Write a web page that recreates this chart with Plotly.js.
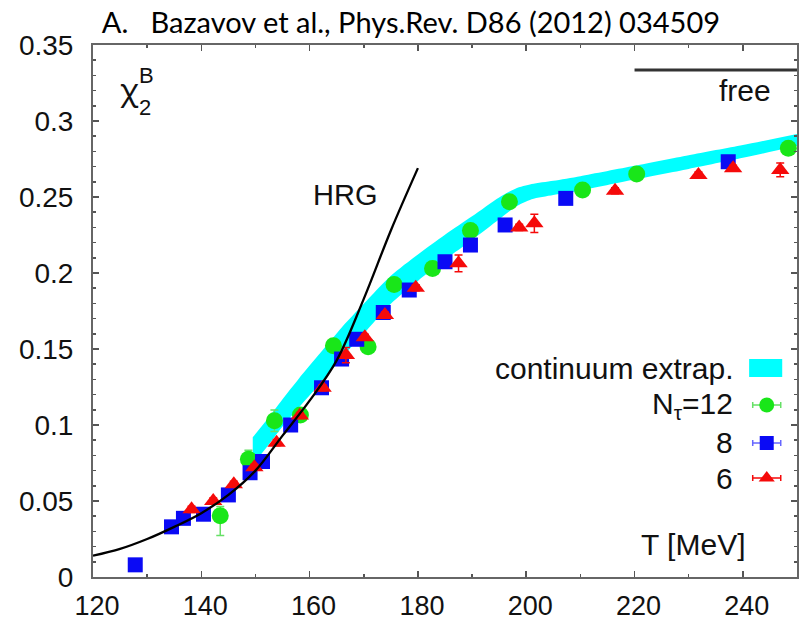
<!DOCTYPE html>
<html><head><meta charset="utf-8">
<script src="https://cdn.plot.ly/plotly-3.0.1.min.js"></script>
<style>html,body{margin:0;padding:0;background:#fff}#chart{width:801px;height:621px}</style>
</head><body><div id="chart"></div>
<script>
// HRG curve
const hrgT = [120, 125, 130, 135, 140, 145, 150, 155, 160, 165, 170, 175, 180];
const hrgY = [0.014, 0.0185, 0.025, 0.033, 0.042, 0.054, 0.070, 0.093, 0.116, 0.1425, 0.183, 0.228, 0.269];

// continuum extrapolation band
const bandT     = [149.5, 152, 155, 158, 162, 166, 170, 175, 180, 185, 190, 195, 198, 201, 205, 210, 220, 230, 240, 250];
const bandUpper = [0.092, 0.103, 0.117, 0.1305, 0.1475, 0.1645, 0.1798, 0.1982, 0.2122, 0.2252, 0.2373, 0.2497, 0.2555, 0.2585, 0.2607, 0.2637, 0.2705, 0.2775, 0.2842, 0.2915];
const bandLower = [0.074, 0.085, 0.099, 0.1115, 0.1275, 0.1445, 0.1602, 0.1798, 0.1948, 0.2088, 0.2217, 0.2353, 0.2435, 0.2485, 0.2513, 0.2543, 0.2615, 0.2685, 0.2758, 0.2835];

// N_tau = 12
const n12T = [143.5, 148.7, 153.5, 158.3, 164.4, 170.8, 175.6, 182.7, 189.7, 196.9, 210.4, 220.4, 248.4];
const n12Y = [0.0403, 0.0774, 0.1028, 0.1066, 0.1522, 0.1515, 0.1925, 0.203, 0.228, 0.2469, 0.2546, 0.2651, 0.282];
const n12ErrPlus  = [0.006, 0.006, 0.007, 0.002, 0.002, 0.002, 0.002, 0.002, 0.002, 0.002, 0.002, 0.002, 0.002];
const n12ErrMinus = [0.013, 0.006, 0.007, 0.002, 0.002, 0.002, 0.002, 0.002, 0.002, 0.002, 0.002, 0.002, 0.002];

// N_tau = 8
const n8T = [127.8, 134.5, 136.7, 140.4, 145.0, 149.0, 151.3, 156.5, 162.2, 165.9, 168.7, 173.6, 178.4, 185.0, 189.7, 196.1, 207.3, 237.3];
const n8Y = [0.008, 0.033, 0.0386, 0.0413, 0.054, 0.0686, 0.076, 0.1, 0.1245, 0.1434, 0.1564, 0.174, 0.1888, 0.2074, 0.2184, 0.2316, 0.2491, 0.2732];

// N_tau = 6
const n6T = [138.2, 142.2, 146.0, 149.8, 153.9, 158.2, 162.4, 166.7, 170.2, 173.9, 179.6, 187.5, 198.7, 201.5, 216.4, 231.8, 238.2, 246.9];
const n6Y = [0.0445, 0.05, 0.061, 0.0722, 0.0884, 0.1063, 0.1245, 0.146, 0.1577, 0.1724, 0.1903, 0.2064, 0.23, 0.2327, 0.2541, 0.2645, 0.2689, 0.2678];
const n6Err = [0.002, 0.002, 0.002, 0.002, 0.002, 0.002, 0.002, 0.005, 0.002, 0.002, 0.002, 0.0055, 0.002, 0.006, 0.002, 0.002, 0.002, 0.0045];

// free limit
const freeT = [220, 250];
const freeY = [0.3336, 0.3336];

// tick values
const xTicks = [120, 140, 160, 180, 200, 220, 240];
const yTicks = [0, 0.05, 0.1, 0.15, 0.2, 0.25, 0.3, 0.35];

// legend labels and key rows (paper fractions)
const legendLabels = ['continuum extrap.', 'N<sub>τ</sub>=12', '8', '6'];
const legendRowY = [0.391, 0.3233, 0.2519, 0.186];

const font = 'Liberation Sans, Arial, Helvetica, sans-serif';
const C_GREEN = '#19e619', C_BLUE = '#0a0af5', C_RED = '#f50a0a', C_CYAN = '#00ffff';

const traces = [
  { x: bandT, y: bandLower, mode: 'lines', line: {width: 0, color: C_CYAN, shape: 'spline', smoothing: 0.7}, hoverinfo: 'skip', showlegend: false },
  { x: bandT, y: bandUpper, mode: 'lines', line: {width: 0, color: C_CYAN, shape: 'spline', smoothing: 0.7}, fill: 'tonexty', fillcolor: C_CYAN, showlegend: false },
  { x: n12T, y: n12Y, mode: 'markers', marker: {symbol: 'circle', size: 17, color: C_GREEN, line: {width: 0}},
    error_y: {type: 'data', symmetric: false, array: n12ErrPlus, arrayminus: n12ErrMinus, color: '#66e066', thickness: 1.5, width: 4}, showlegend: false },
  { x: n8T, y: n8Y, mode: 'markers', marker: {symbol: 'square', size: 15, color: C_BLUE, line: {width: 0}}, showlegend: false },
  { x: n6T, y: n6Y, mode: 'markers', marker: {symbol: 'triangle-up', size: 16, color: C_RED, line: {width: 0}},
    error_y: {type: 'data', array: n6Err, color: C_RED, thickness: 1.5, width: 4}, showlegend: false },
  { x: hrgT, y: hrgY, mode: 'lines', line: {color: '#000', width: 2.3, shape: 'spline'}, showlegend: false },
  { x: freeT, y: freeY, mode: 'lines', line: {color: '#333', width: 3}, showlegend: false },
  // legend keys on overlay axes
  { x: [0.957], y: [legendRowY[1]], xaxis: 'x2', yaxis: 'y2', mode: 'markers',
    marker: {symbol: 'circle', size: 15, color: C_GREEN}, error_x: {type: 'data', array: [0.0199], color: '#66e066', thickness: 1.5, width: 3}, showlegend: false },
  { x: [0.957], y: [legendRowY[2]], xaxis: 'x2', yaxis: 'y2', mode: 'markers',
    marker: {symbol: 'square', size: 14, color: C_BLUE}, error_x: {type: 'data', array: [0.0199], color: '#6666ff', thickness: 1.5, width: 3}, showlegend: false },
  { x: [0.957], y: [legendRowY[3]], xaxis: 'x2', yaxis: 'y2', mode: 'markers',
    marker: {symbol: 'triangle-up', size: 14, color: C_RED}, error_x: {type: 'data', array: [0.0199], color: C_RED, thickness: 1.5, width: 3}, showlegend: false }
];

const ann = (text, x, y, size, xanchor, fam) => ({ text, x, y, xref: 'paper', yref: 'paper', showarrow: false,
  xanchor: xanchor || 'left', yanchor: 'middle', font: {family: fam || font, size, color: '#111'} });

const annotations = [
  ann('χ', 0.036, 0.918, 31, 'left', 'Noto Sans, DejaVu Sans, sans-serif'),
  ann('2', 0.063, 0.882, 22),
  ann('B', 0.063, 0.943, 22),
  ann('HRG', 0.31, 0.718, 29),
  ann('free', 0.966, 0.915, 30, 'right'),
  ann('T [MeV]', 0.929, 0.062, 30, 'right')
];
legendLabels.forEach((t, i) => annotations.push(ann(t, 0.912, legendRowY[i], 30, 'right')));

const layout = {
  width: 801, height: 621,
  margin: {l: 93, r: 4, t: 45, b: 44},
  paper_bgcolor: '#fff', plot_bgcolor: '#fff',
  title: { text: 'A.\u00a0\u00a0\u00a0Bazavov et al., Phys.Rev. D86 (2012) 034509', xref: 'container', yref: 'container',
    x: 0.513, xanchor: 'center', y: 0.963, yanchor: 'middle', font: {family: 'Lato, sans-serif', size: 29, color: '#000'} },
  xaxis: { range: [120, 250], tickvals: xTicks, ticks: 'inside', ticklen: 6, tickwidth: 1.5, tickcolor: '#555',
    showline: true, linecolor: '#666', linewidth: 2, mirror: 'allticks', showgrid: false, zeroline: false,
    minor: {dtick: 10, ticks: 'inside', ticklen: 3, tickcolor: '#555', tickwidth: 1.5},
    tickfont: {family: font, size: 27, color: '#111'}, ticklabelstandoff: 4, ticklabelshift: 4 },
  yaxis: { range: [0, 0.35], tickvals: yTicks, ticks: 'inside', ticklen: 6, tickwidth: 1.5, tickcolor: '#555',
    showline: true, linecolor: '#666', linewidth: 2, mirror: 'allticks', showgrid: false, zeroline: false,
    minor: {dtick: 0.01, ticks: 'inside', ticklen: 3, tickcolor: '#555', tickwidth: 1.5},
    tickfont: {family: font, size: 28, color: '#111'}, ticklabelstandoff: 12 },
  xaxis2: { overlaying: 'x', range: [0, 1], visible: false, fixedrange: true },
  yaxis2: { overlaying: 'y', range: [0, 1], visible: false, fixedrange: true },
  shapes: [ { type: 'rect', xref: 'paper', yref: 'paper', x0: 0.932, x1: 0.979, y0: 0.376, y1: 0.41,
    fillcolor: C_CYAN, line: {width: 0} } ],
  annotations,
  showlegend: false
};

Plotly.newPlot('chart', traces, layout, {displayModeBar: false, staticPlot: true});
</script></body></html>
